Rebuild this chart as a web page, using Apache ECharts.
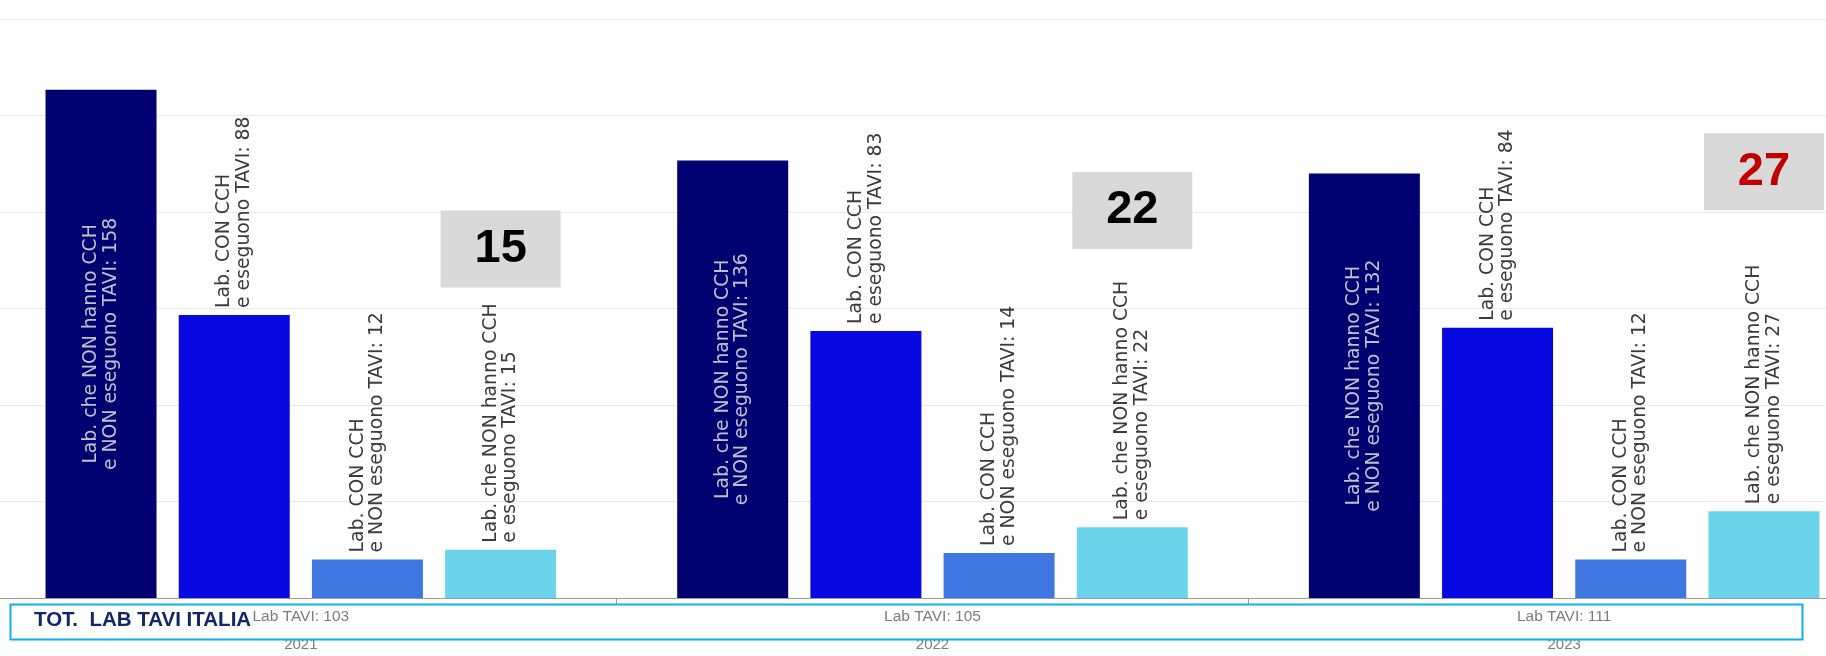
<!DOCTYPE html>
<html>
<head>
<meta charset="utf-8">
<title>Lab TAVI</title>
<script src="https://cdn.jsdelivr.net/npm/echarts@6/dist/echarts.min.js"></script>
<style>
  html, body { margin: 0; padding: 0; background: #ffffff; }
  #chart { width: 1826px; height: 656px; }
</style>
</head>
<body>
<div id="chart"></div>
<script>
// Years and total TAVI labs per year
const years = ['2021', '2022', '2023'];
const labTavi = [103, 105, 111];

// Lab counts per group
const nonCchNonTavi = [158, 136, 132];  // Lab. che NON hanno CCH e NON eseguono TAVI
const conCchTavi = [88, 83, 84];        // Lab. CON CCH e eseguono TAVI
const conCchNonTavi = [12, 14, 12];     // Lab. CON CCH e NON eseguono TAVI
const nonCchTavi = [15, 22, 27];        // Lab. che NON hanno CCH e eseguono TAVI

const labelFont = 'DejaVu Sans';
const chart = echarts.init(document.getElementById('chart'), null, { renderer: 'canvas' });

function barLabel(line1, line2, inside) {
  return {
    show: true,
    position: inside ? 'inside' : 'top',
    distance: 7,
    rotate: 90,
    align: inside ? 'center' : 'left',
    verticalAlign: 'middle',
    fontFamily: labelFont,
    fontSize: 18.8,
    lineHeight: 19.5,
    color: inside ? '#bfc0cc' : '#3c3c3c',
    formatter: p => line1 + '\n' + line2 + ': ' + p.value
  };
}

// Grey badges repeating the last group's value above each year
const badgeHeights = [108.5, 120.5, 132.5];
const badgeColors = ['#000000', '#000000', '#c00000'];

const option = {
  animation: false,
  backgroundColor: '#ffffff',
  // the plot area runs a little past both edges of the canvas
  grid: {
    left: -15, top: 19, width: 1895, height: 579,
    containLabel: false,
    outerBoundsMode: 'none'
  },
  xAxis: {
    type: 'category',
    data: years,
    axisLine: { show: true, lineStyle: { color: '#9a9a9a', width: 1 } },
    axisTick: { show: true, alignWithLabel: false, length: 6, lineStyle: { color: '#9a9a9a' } },
    axisLabel: {
      margin: 3,
      interval: 0,
      formatter: (val, idx) => '{a|Lab TAVI: ' + labTavi[idx] + '}\n{b|' + val + '}',
      rich: {
        a: { fontFamily: 'Liberation Sans', fontSize: 15.5, color: '#7c7c7c', lineHeight: 31 },
        b: { fontFamily: 'Liberation Sans', fontSize: 15, color: '#7c7c7c', lineHeight: 25 }
      }
    }
  },
  yAxis: {
    type: 'value',
    min: 0,
    max: 180,
    interval: 30,
    axisLabel: { show: false },
    axisLine: { show: false },
    axisTick: { show: false },
    splitLine: { lineStyle: { color: '#e5e7f1', width: 1 } }
  },
  series: [
    {
      type: 'bar', name: 'Lab. che NON hanno CCH e NON eseguono TAVI',
      data: nonCchNonTavi, barWidth: 111, barGap: '20%',
      itemStyle: { color: '#000070' },
      label: barLabel('Lab. che NON hanno CCH', 'e NON eseguono TAVI', true)
    },
    {
      type: 'bar', name: 'Lab. CON CCH e eseguono TAVI',
      data: conCchTavi, barWidth: 111, barGap: '20%',
      itemStyle: { color: '#0808e0' },
      label: barLabel('Lab. CON CCH', 'e eseguono TAVI', false)
    },
    {
      type: 'bar', name: 'Lab. CON CCH e NON eseguono TAVI',
      data: conCchNonTavi, barWidth: 111, barGap: '20%',
      itemStyle: { color: '#4076e0' },
      label: barLabel('Lab. CON CCH', 'e NON eseguono TAVI', false)
    },
    {
      type: 'bar', name: 'Lab. che NON hanno CCH e eseguono TAVI',
      data: nonCchTavi, barWidth: 111, barGap: '20%',
      itemStyle: { color: '#6bd3ea' },
      label: barLabel('Lab. che NON hanno CCH', 'e eseguono TAVI', false),
      markPoint: {
        symbol: 'rect',
        symbolSize: [120, 77],
        silent: true,
        itemStyle: { color: '#d9d9d9' },
        label: {
          show: true,
          position: 'inside',
          formatter: '{c}',
          fontFamily: 'Liberation Sans',
          fontWeight: 'bold',
          fontSize: 47
        },
        data: nonCchTavi.map((v, i) => ({
          coord: [i, badgeHeights[i]],
          value: v,
          label: { color: badgeColors[i] }
        }))
      }
    }
  ],
  graphic: [
    {
      type: 'rect',
      left: 8, top: 602,
      shape: { width: 1792, height: 35 },
      style: { fill: 'none', stroke: '#0fb0ee', lineWidth: 2 },
      z: 10
    },
    {
      type: 'text',
      left: 34, top: 610,
      style: {
        text: 'TOT.  LAB TAVI ITALIA',
        fill: '#12276a',
        font: 'bold 20.5px "Liberation Sans", Arial, sans-serif'
      },
      z: 11
    }
  ]
};

chart.setOption(option);
</script>
</body>
</html>
